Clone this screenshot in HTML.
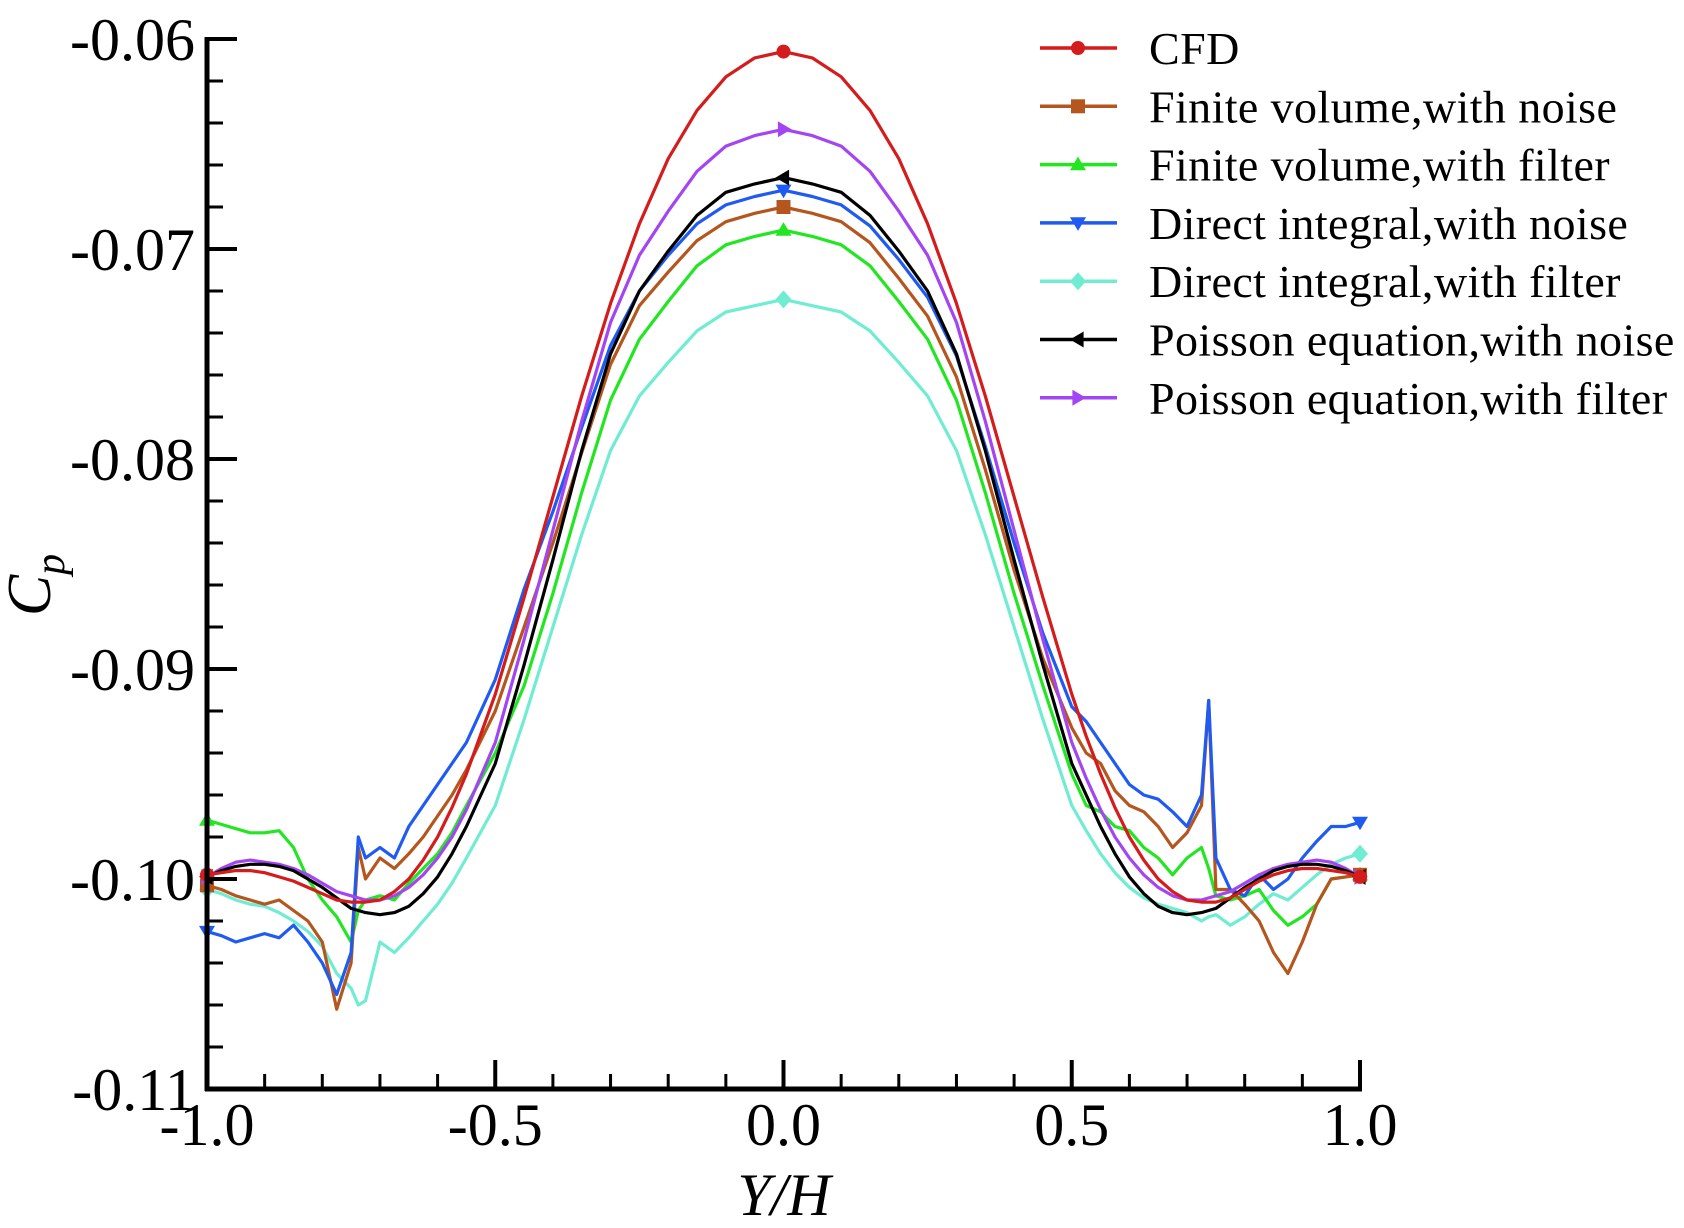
<!DOCTYPE html>
<html><head><meta charset="utf-8"><style>
html,body{margin:0;padding:0;background:#fff;}
svg{display:block;font-family:"Liberation Serif",serif;}
</style></head><body>
<svg id="chart" width="1684" height="1228" viewBox="0 0 1684 1228" xmlns="http://www.w3.org/2000/svg">
<g id="marks"></g>
<g id="axes"></g>
<g id="legend"></g>
<text transform="translate(50,585) rotate(-90)" text-anchor="middle" font-size="62" font-style="italic">C<tspan font-size="42" dy="14">p</tspan></text>
<text x="784" y="1215" text-anchor="middle" font-size="60" font-style="italic">Y/H</text>
</svg>
<script>
const xs=[-1,-0.975,-0.95,-0.925,-0.9,-0.875,-0.85,-0.825,-0.8,-0.775,-0.75,-0.7375,-0.725,-0.7,-0.675,-0.65,-0.625,-0.6,-0.575,-0.55,-0.5,-0.45,-0.4,-0.35,-0.3,-0.25,-0.2,-0.15,-0.1,-0.05,0,0.05,0.1,0.15,0.2,0.25,0.3,0.35,0.4,0.45,0.5,0.525,0.55,0.575,0.6,0.625,0.65,0.675,0.7,0.725,0.7375,0.75,0.775,0.8,0.825,0.85,0.875,0.9,0.925,0.95,0.975,1];
const cfd=[-0.0998,-0.0997,-0.0996,-0.0996,-0.0997,-0.0999,-0.1001,-0.1004,-0.1007,-0.1010,-0.1011,-0.1011,-0.1011,-0.1010,-0.1006,-0.1000,-0.0991,-0.0980,-0.0966,-0.0950,
-0.0912,-0.0866,-0.0818,-0.077,-0.0726,-0.0688,-0.0657,-0.0634,-0.0618,-0.0609,-0.0606,-0.0609,-0.0618,-0.0634,-0.0657,-0.0688,-0.0726,-0.077,-0.0818,-0.0866,-0.0912,
-0.0932,-0.095,-0.0966,-0.098,-0.0991,-0.1,-0.1006,-0.101,-0.1011,-0.1011,-0.1011,-0.1009,-0.1005,-0.1001,-0.0998,-0.0996,-0.0995,-0.0995,-0.0996,-0.0997,-0.0999];
const fvNoise=[-0.1003,-0.1005,-0.1008,-0.101,-0.1012,-0.101,-0.1015,-0.102,-0.103,-0.1062,-0.104,-0.0985,-0.1,-0.099,-0.0995,-0.0988,-0.098,-0.097,-0.096,-0.0948,
-0.092,-0.088,-0.084,-0.0797,-0.0755,-0.0727,-0.0711,-0.0696,-0.0687,-0.0683,-0.068,-0.0683,-0.0687,-0.0697,-0.0714,-0.0732,-0.0761,-0.0805,-0.0853,-0.0895,-0.0928,
-0.094,-0.0945,-0.0958,-0.0965,-0.0968,-0.0975,-0.0985,-0.0978,-0.0965,-0.0915,-0.1005,-0.1005,-0.1012,-0.102,-0.1035,-0.1045,-0.103,-0.1012,-0.1,-0.0999,-0.0998];
const fvFilter=[-0.0972,-0.0974,-0.0976,-0.0978,-0.0978,-0.0977,-0.0985,-0.1,-0.101,-0.1018,-0.103,-0.1015,-0.101,-0.1008,-0.101,-0.1002,-0.0995,-0.0988,-0.0978,-0.0965,
-0.094,-0.0908,-0.0864,-0.0816,-0.0772,-0.0743,-0.0725,-0.0708,-0.0698,-0.0694,-0.0691,-0.0694,-0.0698,-0.0708,-0.0725,-0.0743,-0.0772,-0.0816,-0.0864,-0.0908,-0.095,
-0.0965,-0.0968,-0.0975,-0.0977,-0.0985,-0.099,-0.0998,-0.099,-0.0985,-0.0995,-0.1008,-0.101,-0.1008,-0.1005,-0.1015,-0.1022,-0.1018,-0.1012,-0.1,-0.0999,-0.0998];
const diNoise=[-0.1025,-0.1027,-0.103,-0.1028,-0.1026,-0.1028,-0.1022,-0.103,-0.104,-0.1055,-0.1035,-0.098,-0.099,-0.0985,-0.099,-0.0975,-0.0965,-0.0955,-0.0945,-0.0935,
-0.0905,-0.0862,-0.0825,-0.0785,-0.0746,-0.072,-0.0703,-0.0688,-0.0679,-0.0675,-0.0672,-0.0675,-0.0679,-0.0689,-0.0705,-0.0723,-0.0751,-0.0794,-0.084,-0.0883,-0.0918,
-0.0925,-0.0935,-0.0945,-0.0955,-0.096,-0.0962,-0.0968,-0.0975,-0.096,-0.0915,-0.099,-0.1005,-0.1008,-0.0998,-0.1005,-0.1,-0.099,-0.0982,-0.0975,-0.0975,-0.0973];
const diFilter=[-0.1005,-0.1007,-0.101,-0.1012,-0.1013,-0.1016,-0.102,-0.1025,-0.1032,-0.1045,-0.1052,-0.106,-0.1058,-0.103,-0.1035,-0.1028,-0.102,-0.1012,-0.1002,-0.099,
-0.0965,-0.0924,-0.088,-0.0836,-0.0796,-0.077,-0.0754,-0.0739,-0.073,-0.0727,-0.0724,-0.0727,-0.073,-0.0739,-0.0754,-0.077,-0.0796,-0.0836,-0.088,-0.0924,-0.0965,
-0.0977,-0.0988,-0.0997,-0.1004,-0.1009,-0.1012,-0.1014,-0.1016,-0.102,-0.1018,-0.1017,-0.1022,-0.1018,-0.1012,-0.1007,-0.101,-0.1004,-0.0998,-0.0993,-0.099,-0.0988];
const peNoise=[-0.0999,-0.0996,-0.0994,-0.0993,-0.0993,-0.0994,-0.0996,-0.1,-0.1004,-0.1009,-0.1014,-0.1015,-0.1016,-0.1017,-0.1016,-0.1013,-0.1007,-0.0999,-0.0988,-0.0975,
-0.0945,-0.0898,-0.0848,-0.0796,-0.075,-0.072,-0.0701,-0.0684,-0.0673,-0.0669,-0.0666,-0.0669,-0.0673,-0.0684,-0.0701,-0.072,-0.075,-0.0796,-0.0848,-0.0898,-0.0945,
-0.096,-0.0975,-0.0988,-0.0999,-0.1007,-0.1013,-0.1016,-0.1017,-0.1016,-0.1015,-0.1014,-0.1009,-0.1004,-0.1,-0.0996,-0.0994,-0.0993,-0.0993,-0.0994,-0.0996,-0.0999];
const peFilter=[-0.0999,-0.0995,-0.0992,-0.0991,-0.0992,-0.0993,-0.0995,-0.0998,-0.1002,-0.1006,-0.1008,-0.1009,-0.101,-0.101,-0.1008,-0.1004,-0.0998,-0.099,-0.098,-0.0967,
-0.0935,-0.0886,-0.0834,-0.0782,-0.0735,-0.0703,-0.0682,-0.0663,-0.0651,-0.0646,-0.0643,-0.0646,-0.0651,-0.0663,-0.0682,-0.0703,-0.0735,-0.0782,-0.0834,-0.0886,-0.0935,
-0.0952,-0.0967,-0.098,-0.099,-0.0998,-0.1004,-0.1008,-0.101,-0.101,-0.1009,-0.1008,-0.1006,-0.1002,-0.0998,-0.0995,-0.0993,-0.0992,-0.0991,-0.0992,-0.0995,-0.0999];
const seriesNames=["CFD","Finite volume,with noise","Finite volume,with filter","Direct integral,with noise","Direct integral,with filter","Poisson equation,with noise","Poisson equation,with filter"];
const xTickLabels=["-1.0","-0.5","0.0","0.5","1.0"];
const yTickLabels=["-0.06","-0.07","-0.08","-0.09","-0.10","-0.11"];

const NS="http://www.w3.org/2000/svg";
const X0=207,X1=1360,Y0=39,Y1=1089;
function sx(x){return X0+(x+1)/2*(X1-X0);}
function sy(v){return Y0+(-0.06-v)/0.05*(Y1-Y0);}
function mk(tag,attrs,parent){const e=document.createElementNS(NS,tag);for(const k in attrs)e.setAttribute(k,attrs[k]);parent.appendChild(e);return e;}
const series=[
 {d:cfd,c:"#d41c1c",m:"circle",n:"cfd"},
 {d:fvNoise,c:"#b4561e",m:"square",n:"fv-noise"},
 {d:fvFilter,c:"#22e622",m:"up",n:"fv-filter"},
 {d:diNoise,c:"#1f5af2",m:"down",n:"di-noise"},
 {d:diFilter,c:"#70ecd2",m:"diamond",n:"di-filter"},
 {d:peNoise,c:"#000000",m:"left",n:"pe-noise"},
 {d:peFilter,c:"#a445f2",m:"right",n:"pe-filter"}];
function marker(g,type,x,y,c){
 const r=8;let e;
 if(type==="circle")e=mk("circle",{cx:x,cy:y,r:7,fill:c},g);
 else if(type==="square")e=mk("rect",{x:x-7,y:y-7,width:14,height:14,fill:c},g);
 else{let p;
  if(type==="up")p=[[x,y-r],[x+r,y+r*0.7],[x-r,y+r*0.7]];
  if(type==="down")p=[[x,y+r],[x+r,y-r*0.7],[x-r,y-r*0.7]];
  if(type==="left")p=[[x-r,y],[x+r*0.7,y-r],[x+r*0.7,y+r]];
  if(type==="right")p=[[x+r,y],[x-r*0.7,y-r],[x-r*0.7,y+r]];
  if(type==="diamond")p=[[x,y-9],[x+8,y],[x,y+9],[x-8,y]];
  e=mk("polygon",{points:p.map(q=>q.join(",")).join(" "),fill:c},g);}
 return e;
}
const marks=document.getElementById("marks");
const order=[4,2,1,3,6,5,0];
order.forEach(i=>{
 const s=series[i];
 const pts=xs.map((x,j)=>sx(x).toFixed(1)+","+sy(s.d[j]).toFixed(1)).join(" ");
 const pl=mk("polyline",{points:pts,fill:"none",stroke:s.c,"stroke-width":3.2,"stroke-linejoin":"round"},marks);
 
 
 [0,xs.length-1].concat([xs.indexOf(0)]).forEach(j=>{
  const m=marker(marks,s.m,sx(xs[j]),sy(s.d[j]),s.c);
  
  
 });
});
const ax=document.getElementById("axes");
const yl=mk("line",{x1:X0,y1:Y0-2,x2:X0,y2:Y1+2,stroke:"#000","stroke-width":5},ax);

const xl=mk("line",{x1:X0-2,y1:Y1,x2:X1+2,y2:Y1,stroke:"#000","stroke-width":5},ax);

for(let k=0;k<=25;k++){
 const v=-0.06-k*0.002,y=sy(v),maj=k%5===0;
 const t=mk("line",{x1:X0,y1:y,x2:X0+(maj?30:16),y2:y,stroke:"#000","stroke-width":maj?4:3},ax);
 
}
yTickLabels.forEach((l,k)=>{
 const t=mk("text",{x:X0-12,y:sy(-0.06-k*0.01)+21,"text-anchor":"end","font-size":60},ax);
 t.textContent=l;
 
});
for(let k=0;k<=20;k++){
 const x=sx(-1+k*0.1),maj=k%5===0;
 const t=mk("line",{x1:x,y1:Y1,x2:x,y2:Y1-(maj?29:15),stroke:"#000","stroke-width":maj?4:3},ax);
 
}
xTickLabels.forEach((l,k)=>{
 const t=mk("text",{x:sx(-1+k*0.5),y:1145,"text-anchor":"middle","font-size":60},ax);
 t.textContent=l;
 
});
const lg=document.getElementById("legend");
seriesNames.forEach((nm,i)=>{
 const y=48+i*58.3,s=series[i];
 const g=mk("g",{},lg);
 
 mk("line",{x1:1040,y1:y,x2:1117,y2:y,stroke:s.c,"stroke-width":3.5},g);
 marker(g,s.m,1078,y,s.c);
 const t=mk("text",{x:1149,y:y+16,"font-size":46,"letter-spacing":"0.4"},g);
 t.textContent=nm;
});
</script>
</body></html>
